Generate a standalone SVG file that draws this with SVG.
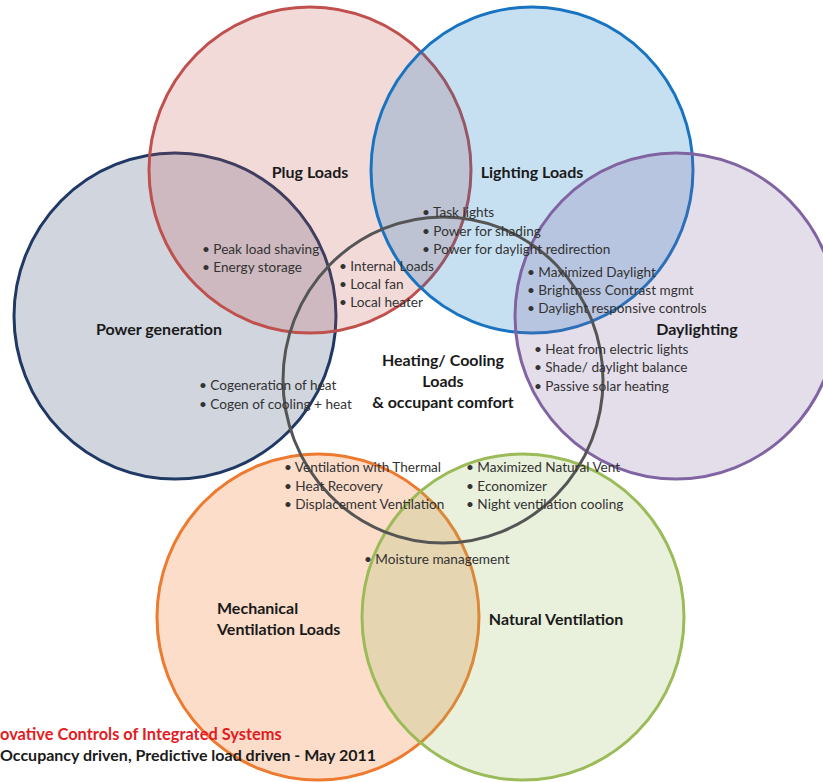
<svg xmlns="http://www.w3.org/2000/svg" width="823" height="782" viewBox="0 0 823 782">
<style>
.c{stroke-width:3}
.t{font-family:Lato,"Liberation Sans",sans-serif;font-weight:bold;font-size:16px;fill:#1a1a1a}
.b{font-family:Lato,"Liberation Sans",sans-serif;font-size:13.6px;fill:#333}
.f{font-family:Lato,"Liberation Sans",sans-serif;font-weight:bold;font-size:16px}
.fr{font-size:16.4px;fill:#E31B23}
</style>
<rect width="823" height="782" fill="#fff"/>
<g id="power-generation">
<ellipse class="c" cx="175" cy="316" rx="161" ry="163" fill="#1F3864" fill-opacity="0.21" stroke="#1F3864"/>
<text class="t" x="159" y="335" text-anchor="middle">Power generation</text>
</g>
<g id="plug-loads">
<ellipse class="c" cx="310" cy="170" rx="161" ry="163" fill="#C0504D" fill-opacity="0.21" stroke="#C0504D"/>
<text class="t" x="310" y="178" text-anchor="middle">Plug Loads</text>
</g>
<g id="lighting-loads">
<ellipse class="c" cx="532" cy="170" rx="161" ry="163" fill="#0070C0" fill-opacity="0.22" stroke="#1874C0"/>
<text class="t" x="532" y="178" text-anchor="middle">Lighting Loads</text>
</g>
<g id="daylighting">
<ellipse class="c" cx="676" cy="316" rx="161" ry="163" fill="#8064A2" fill-opacity="0.21" stroke="#8064A2"/>
<text class="t" x="697" y="335" text-anchor="middle">Daylighting</text>
</g>
<g id="mechanical-ventilation">
<ellipse class="c" cx="318" cy="617" rx="161" ry="163" fill="#EE7A2F" fill-opacity="0.26" stroke="#EE7A2F"/>
<text class="t" x="217" y="614">Mechanical</text>
<text class="t" x="217" y="635">Ventilation Loads</text>
</g>
<g id="natural-ventilation">
<ellipse class="c" cx="523" cy="617" rx="161" ry="163" fill="#9BBB59" fill-opacity="0.22" stroke="#9BBB59"/>
<text class="t" x="556" y="625" text-anchor="middle">Natural Ventilation</text>
</g>
<g id="heating-cooling">
<ellipse class="c" cx="443" cy="380" rx="160" ry="163" fill="none" stroke="#555555"/>
<text class="t" x="443" y="366" text-anchor="middle">Heating/ Cooling</text>
<text class="t" x="443" y="387" text-anchor="middle">Loads</text>
<text class="t" x="443" y="408" text-anchor="middle">&amp; occupant comfort</text>
</g>
<g id="connectors"></g>
<g id="plug-power">
<text class="b" x="202" y="254">• Peak load shaving</text>
<text class="b" x="202" y="272">• Energy storage</text>
</g>
<g id="plug-heating">
<text class="b" x="339" y="271">• Internal Loads</text>
<text class="b" x="339" y="289">• Local fan</text>
<text class="b" x="339" y="307">• Local heater</text>
</g>
<g id="lighting-heating">
<text class="b" x="422" y="217">• Task lights</text>
<text class="b" x="422" y="236">• Power for shading</text>
<text class="b" x="422" y="254">• Power for daylight redirection</text>
</g>
<g id="daylighting-lighting">
<text class="b" x="527" y="277">• Maximized Daylight</text>
<text class="b" x="527" y="295">• Brightness Contrast mgmt</text>
<text class="b" x="527" y="313">• Daylight responsive controls</text>
</g>
<g id="daylighting-heating">
<text class="b" x="534" y="354">• Heat from electric lights</text>
<text class="b" x="534" y="372">• Shade/ daylight balance</text>
<text class="b" x="534" y="391">• Passive solar heating</text>
</g>
<g id="power-heating">
<text class="b" x="199" y="390">• Cogeneration of heat</text>
<text class="b" x="199" y="409">• Cogen of cooling + heat</text>
</g>
<g id="mechanical-heating">
<text class="b" x="284" y="472">• Ventilation with Thermal</text>
<text class="b" x="284" y="491">• Heat Recovery</text>
<text class="b" x="284" y="509">• Displacement Ventilation</text>
</g>
<g id="natural-heating">
<text class="b" x="466" y="472">• Maximized Natural Vent</text>
<text class="b" x="466" y="491">• Economizer</text>
<text class="b" x="466" y="509">• Night ventilation cooling</text>
</g>
<g id="mechanical-natural">
<text class="b" x="364" y="564">• Moisture management</text>
</g>
<g id="footer">
<text class="f fr" x="0" y="740">ovative Controls of Integrated Systems</text>
<text class="f" x="0" y="761" fill="#1a1a1a">Occupancy driven, Predictive load driven - May 2011</text>
</g>
</svg>
